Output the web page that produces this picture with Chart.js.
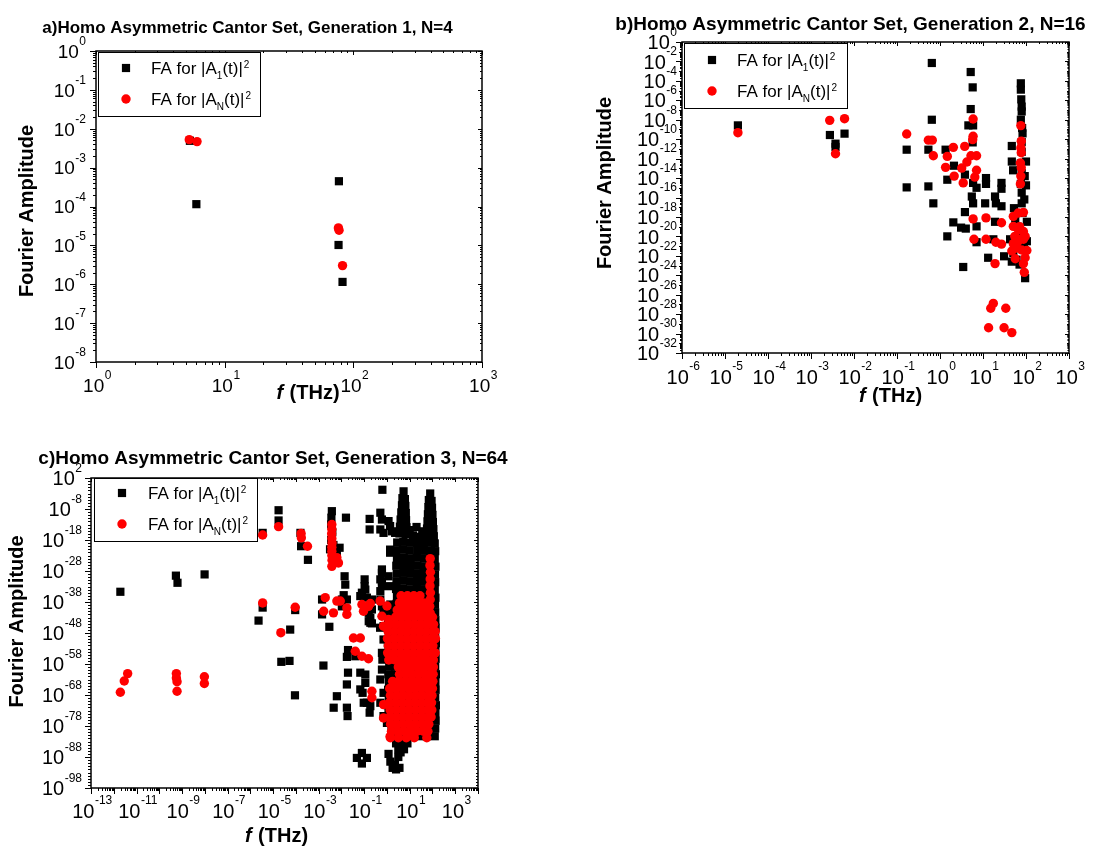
<!DOCTYPE html>
<html>
<head>
<meta charset="utf-8">
<title>Homo Asymmetric Cantor Set – Fourier Amplitude</title>
<script src="https://cdn.jsdelivr.net/npm/chart.js@4.4.1/dist/chart.umd.min.js"></script>
<style>
  html, body { margin: 0; padding: 0; background: #fff; }
  body { width: 1094px; height: 848px; position: relative; overflow: hidden; }
  canvas { position: absolute; }
</style>
</head>
<body>
<canvas id="gen1" width="547" height="424" style="left:0;top:0"></canvas>
<canvas id="gen2" width="547" height="424" style="left:547px;top:0"></canvas>
<canvas id="gen3" width="547" height="424" style="left:0;top:424px"></canvas>
<script>
// Every point is [log10 f (THz), log10 Fourier amplitude].

// ---- Generation 1, N = 4 ----
const gen1A1 = [[0.73,-2.31],[0.78,-3.94],[1.888,-3.35],[1.885,-4.99],[1.916,-5.94]];
const gen1AN = [[0.725,-2.28],[0.785,-2.33],[1.884,-4.55],[1.889,-4.61],[1.916,-5.52]];

// ---- Generation 2, N = 16 ----
const gen2A1 = [
  [-4.70,-8.58],[-2.56,-9.57],[-2.43,-10.46],[-2.43,-10.8],[-2.22,-9.43],
  [-0.775,-11.08],[-0.775,-14.96],
  [-0.19,-2.16],[-0.19,-8.0],[-0.27,-11.08],[-0.27,-14.86],[-0.155,-16.6],
  [0.13,-11.08],[0.325,-12.73],[0.17,-14.17],[0.31,-18.56],[0.17,-20.0],
  [0.58,-13.65],[0.58,-17.5],[0.49,-19.1],[0.6,-19.2],[0.54,-23.15],
  [0.714,-3.09],[0.76,-4.67],[0.714,-6.9],[0.66,-8.58],[0.77,-8.58],[0.76,-10.33],
  [0.77,-14.5],[0.85,-15.0],[0.74,-15.9],[0.77,-16.6],[0.85,-18.97],[0.85,-20.6],
  [1.07,-14.0],[1.07,-14.6],[1.05,-16.6],
  [1.28,-15.9],[1.30,-16.6],[1.28,-18.5],[1.24,-20.3],[1.12,-22.2],
  [1.43,-14.5],[1.43,-15.1],[1.43,-16.9],[1.49,-22.05],
  [1.88,-4.25],[1.88,-4.9],[1.89,-5.9],[1.9,-6.65],[1.9,-7.15],[1.88,-8.0],[1.91,-8.85],[1.92,-9.4],
  [1.67,-10.7],[1.67,-12.3],[1.70,-13.2],[2.0,-12.3],[1.97,-13.8],[2.0,-14.75],
  [1.9,-10.3],[1.9,-11.3],[1.88,-12.5],[1.9,-13.5],[1.88,-14.6],
  [1.9,-15.5],[1.9,-16.6],[1.96,-16.2],[1.72,-17.1],[1.92,-17.6],[2.02,-18.5],
  [1.67,-22.6],[1.78,-22.4],[1.98,-24.3],[1.705,-21.7],[2.02,-20.5],[1.63,-20.3],
  [1.8,-19.0],[1.9,-19.8],[1.95,-21.0],[1.85,-22.9],[1.75,-18.2]
];
const gen2AN = [
  [-4.70,-9.33],[-2.565,-8.06],[-2.22,-7.89],[-2.43,-11.5],
  [-0.775,-9.47],[-0.27,-10.1],[-0.18,-10.1],[-0.155,-11.7],
  [0.31,-10.84],[0.17,-11.77],[0.13,-12.9],[0.33,-13.8],
  [0.575,-10.74],[0.505,-12.97],[0.54,-14.5],[0.625,-12.35],
  [0.77,-7.92],[0.77,-9.7],[0.76,-10.05],[0.72,-11.7],[0.85,-11.7],[0.85,-13.2],[0.81,-13.9],
  [0.77,-18.2],[0.79,-20.3],
  [1.07,-18.1],[1.07,-20.3],[1.43,-18.6],[1.30,-20.6],[1.43,-20.8],[1.28,-22.8],
  [1.24,-26.9],[1.18,-27.4],[1.53,-27.4],[1.13,-29.4],[1.49,-29.4],[1.67,-29.9],
  [1.88,-8.6],[1.89,-10.2],[1.88,-10.9],[1.89,-11.4],[1.87,-12.45],[1.89,-12.95],[1.88,-13.8],[1.87,-14.6],
  [1.705,-17.94],[1.82,-17.6],[1.94,-17.53],[1.705,-18.97],[1.82,-19.3],[1.94,-19.5],[1.74,-20.0],
  [1.86,-20.3],[1.98,-20.0],[1.705,-20.75],[1.94,-20.3],[1.67,-21.5],[1.78,-21.2],[1.90,-21.4],
  [2.02,-21.45],[1.98,-22.2],[1.94,-22.8],[1.96,-23.7],[1.85,-19.0],[1.8,-20.6],[1.75,-22.3]
];

// ---- Generation 3, N = 64 ----
const gen3A1 = [
  [-11.71,-34.7],[-9.27,-29.5],[-9.2,-31.8],[-8.01,-29.1],
  [-5.46,-15.7],[-4.76,-8.4],[-4.76,-11.7],
  [-5.46,-39.8],[-5.64,-44.0],[-4.25,-46.9],[-4.64,-57.3],[-4.28,-57.0],[-4.04,-68.1],[-4.03,-40.6],
  [-3.80,-15.7],[-3.77,-20.0],[-3.47,-24.4],
  [-2.42,-8.7],[-2.44,-10.8],[-2.45,-13.0],[-2.40,-15.5],[-2.45,-18.0],[-2.35,-19.6],[-2.5,-21.0],[-2.2,-22.1],[-2.08,-20.5],
  [-1.8,-10.8],[-1.86,-29.7],[-1.83,-32.4],[-0.98,-30.7],[-0.98,-32.9],
  [-2.85,-37.2],[-2.85,-42.0],[-2.53,-46.0],[-2.79,-58.5],
  [-1.98,-37.2],[-1.98,-39.4],[-1.9,-35.8],[-1.76,-37.2],
  [-1.17,-36.1],[-0.88,-36.6],[-0.66,-37.2],[-0.66,-40.4],[-0.73,-43.1],[-0.66,-44.9],[-1.1,-35.0],[-0.95,-34.0],[-0.8,-41.5],[-0.8,-44.2],
  [-0.76,-11.2],[-0.76,-14.6],
  [-0.2,-1.8],[-0.29,-9.2],[-0.22,-11.4],[-0.29,-14.6],[-0.15,-15.7],
  [0.07,-11.9],[0.14,-13.5],[0.22,-15.2],[0.36,-15.7],[0.14,-21.1],[0.14,-22.1],
  [-0.22,-27.5],[-0.29,-30.7],[-0.22,-32.9],[0.07,-29.7],[0.14,-32.9],
  [-1.71,-53.5],[-1.76,-55.7],[-1.71,-60.8],[-1.76,-64.6],[-2.2,-68.4],[-2.34,-72.1],[-1.76,-72.1],[-1.73,-74.8],
  [-1.39,-55.5],[-1.17,-60.8],[-1.17,-66.2],[-1.02,-70.5],[-0.95,-61.4],[-0.95,-64.1],[-0.88,-70.5],[-0.73,-71.6],[-0.76,-73.7],[-1.07,-67.3],
  [-0.73,-44.7],[-0.3,-46.3],
  [-0.22,-28.6],[-0.22,-31.3],[-0.29,-34.5],[-0.29,-37.2],[-0.22,-39.4],[-0.15,-41.0],[-0.15,-45.8],[-0.15,-50.1],
  [-0.22,-54.4],[-0.2,-56.6],[-0.22,-59.8],[-0.29,-63.0],[-0.15,-67.3],[-0.29,-70.5],[-0.15,-74.8],[0.0,-77.0],
  [-1.32,-88.3],[-0.88,-88.3],[-1.1,-86.7],[-1.1,-90.1],
  [0.07,-87.0],[0.15,-89.5],[0.35,-90.5],[0.5,-88.0],[0.55,-91.5],[0.4,-92.0],[0.25,-91.5],[0.6,-86.5],
  // the two towers at 5 and 80 THz
  [0.73,-2.3],[0.68,-4.5],[0.79,-4.8],[0.66,-6.8],[0.81,-7.0],[0.63,-9.1],[0.83,-9.3],[0.6,-11.4],[0.84,-11.6],
  [0.57,-13.7],[0.86,-13.9],[0.55,-15.9],[0.82,-16.2],
  [1.9,-3.0],[1.84,-5.1],[1.96,-5.4],[1.82,-7.4],[1.98,-7.6],[1.8,-9.7],[2.0,-9.9],[1.78,-12.0],[2.02,-12.2],
  [1.76,-14.3],[2.04,-14.5],[1.8,-16.6],[2.06,-16.8],
  [1.0,-14.8],[1.3,-13.8],[1.55,-15.2],[1.15,-16.5],[1.45,-17.0],
  // dense band 1–140 THz
  [0.45,-18.8],[0.72,-18.6],[1.02,-18.9],[1.3,-18.7],[1.62,-19.0],[1.9,-18.8],[2.1,-19.1],
  [0.4,-21.3],[0.7,-21.1],[1.0,-21.4],[1.33,-21.2],[1.6,-21.5],[1.93,-21.3],[2.12,-21.6],
  [0.44,-23.8],[0.74,-23.6],[1.04,-23.9],[1.31,-23.7],[1.63,-24.0],[1.9,-23.8],[2.1,-24.1],
  [0.41,-26.3],[0.71,-26.1],[1.01,-26.4],[1.34,-26.2],[1.61,-26.5],[1.92,-26.3],[2.13,-26.6],
  [0.43,-28.8],[0.73,-28.6],[1.03,-28.9],[1.32,-28.7],[1.64,-29.0],[1.91,-28.8],[2.11,-29.1],
  [0.42,-31.3],[0.72,-31.1],[1.02,-31.4],[1.33,-31.2],[1.62,-31.5],[1.9,-31.3],[2.12,-31.6],
  [0.4,-33.8],[0.7,-33.6],[1.0,-33.9],[1.31,-33.7],[1.6,-34.0],[1.93,-33.8],[2.1,-34.1],
  [0.44,-36.3],[0.74,-36.1],[1.04,-36.4],[1.34,-36.2],[1.63,-36.5],[1.91,-36.3],[2.13,-36.6],
  [0.15,-38.8],[0.42,-38.6],[0.72,-38.9],[1.02,-38.7],[1.32,-39.0],[1.62,-38.8],[1.92,-39.1],[2.11,-38.9],
  [0.1,-41.3],[0.41,-41.1],[0.71,-41.4],[1.01,-41.2],[1.31,-41.5],[1.61,-41.3],[1.9,-41.6],[2.12,-41.4],
  [0.05,-43.8],[0.4,-43.6],[0.7,-43.9],[1.0,-43.7],[1.3,-44.0],[1.6,-43.8],[1.9,-44.1],[2.13,-43.9],
  [0.05,-46.3],[0.35,-46.3],[0.65,-46.3],[0.95,-46.3],[1.25,-46.3],[1.55,-46.3],[1.85,-46.3],[2.14,-46.3],
  [0.08,-48.8],[0.38,-48.8],[0.68,-48.8],[0.98,-48.8],[1.28,-48.8],[1.58,-48.8],[1.88,-48.8],[2.12,-48.8],
  [0.04,-51.3],[0.34,-51.3],[0.64,-51.3],[0.94,-51.3],[1.24,-51.3],[1.54,-51.3],[1.84,-51.3],[2.15,-51.3],
  [0.07,-53.8],[0.37,-53.8],[0.67,-53.8],[0.97,-53.8],[1.27,-53.8],[1.57,-53.8],[1.87,-53.8],[2.13,-53.8],
  [0.05,-56.3],[0.35,-56.3],[0.65,-56.3],[0.95,-56.3],[1.25,-56.3],[1.55,-56.3],[1.85,-56.3],[2.14,-56.3],
  [0.1,-58.8],[0.38,-58.8],[0.68,-58.8],[0.98,-58.8],[1.28,-58.8],[1.58,-58.8],[1.88,-58.8],[2.12,-58.8],
  [0.06,-61.3],[0.36,-61.3],[0.66,-61.3],[0.96,-61.3],[1.26,-61.3],[1.56,-61.3],[1.86,-61.3],[2.15,-61.3],
  [0.09,-63.8],[0.39,-63.8],[0.69,-63.8],[0.99,-63.8],[1.29,-63.8],[1.59,-63.8],[1.89,-63.8],[2.13,-63.8],
  [0.05,-66.3],[0.35,-66.3],[0.65,-66.3],[0.95,-66.3],[1.25,-66.3],[1.55,-66.3],[1.85,-66.3],[2.14,-66.3],
  [0.08,-68.8],[0.38,-68.8],[0.68,-68.8],[0.98,-68.8],[1.28,-68.8],[1.58,-68.8],[1.88,-68.8],[2.12,-68.8],
  [0.04,-71.3],[0.34,-71.3],[0.64,-71.3],[0.94,-71.3],[1.24,-71.3],[1.54,-71.3],[1.84,-71.3],[2.15,-71.3],
  [0.07,-73.8],[0.37,-73.8],[0.67,-73.8],[0.97,-73.8],[1.27,-73.8],[1.57,-73.8],[1.87,-73.8],[2.13,-73.8],
  [0.1,-76.3],[0.35,-76.3],[0.65,-76.3],[0.95,-76.3],[1.25,-76.3],[1.55,-76.3],[1.85,-76.3],[2.14,-76.3],
  [0.2,-78.8],[0.4,-78.8],[0.7,-78.8],[1.0,-78.8],[1.3,-78.8],[1.6,-78.8],[1.9,-78.8],[2.12,-78.8],
  [0.3,-81.3],[0.55,-81.3],[0.85,-81.3],[1.15,-81.3],[1.45,-81.3],[1.75,-81.3],[2.1,-81.3],
  [0.4,-83.6],[0.65,-83.6],[0.9,-83.6],[0.5,-85.5],[0.75,-85.5]
];
const gen3AN = [
  [-11.71,-67.1],[-11.54,-63.5],[-11.39,-61.1],
  [-9.25,-61.1],[-9.25,-62.5],[-9.22,-63.7],[-9.22,-66.8],
  [-8.02,-62.1],[-8.02,-64.3],
  [-5.46,-16.4],[-4.76,-13.7],[-5.46,-38.3],[-4.66,-47.9],[-4.03,-39.7],
  [-3.77,-15.9],[-3.76,-17.3],[-3.49,-20.0],
  [-2.42,-13.0],[-2.42,-14.5],[-2.43,-16.0],[-2.42,-17.5],[-2.41,-19.0],[-2.42,-20.3],
  [-2.42,-21.6],[-2.42,-23.0],[-2.41,-24.5],[-2.42,-26.5],[-2.2,-23.7],[-2.13,-25.4],
  [-2.71,-36.6],[-2.78,-41.0],[-2.35,-41.5],[-2.2,-37.7],[-2.05,-37.7],[-1.76,-39.9],[-1.76,-42.0],
  [-1.1,-38.8],[-1.03,-41.0],[-0.81,-39.4],[-0.73,-38.5],
  [-1.47,-49.6],[-1.17,-49.6],[-1.39,-53.9],[-1.1,-55.5],[-0.81,-56.3],
  [-0.66,-66.8],[-0.66,-68.9],[-0.15,-71.1],[-0.15,-75.4],[0.14,-81.3],
  [-0.3,-37.7],[0.0,-39.3],[-0.22,-42.6],[0.07,-43.6],[-0.15,-45.8],
  // column near 80 THz
  [1.9,-24.0],[1.89,-26.2],[1.91,-28.4],[1.9,-30.6],[1.89,-32.8],[1.91,-35.0],[1.9,-37.2],[1.88,-39.4],[1.9,-41.6],[1.92,-43.6],
  // dense band 1–140 THz
  [0.62,-36.0],[0.9,-36.0],[1.18,-36.0],[1.45,-36.0],
  [0.55,-38.3],[0.82,-38.3],[1.1,-38.3],[1.38,-38.3],[1.62,-38.3],
  [0.45,-40.6],[0.72,-40.6],[1.0,-40.6],[1.28,-40.6],[1.55,-40.6],[1.72,-40.6],
  [0.38,-42.9],[0.65,-42.9],[0.93,-42.9],[1.2,-42.9],[1.48,-42.9],[1.75,-42.9],[2.0,-42.9],
  [0.1,-45.2],[0.38,-45.2],[0.66,-45.2],[0.94,-45.2],[1.22,-45.2],[1.5,-45.2],[1.78,-45.2],[2.05,-45.2],
  [0.05,-47.5],[0.33,-47.5],[0.61,-47.5],[0.89,-47.5],[1.17,-47.5],[1.45,-47.5],[1.73,-47.5],[2.01,-47.5],[2.12,-47.5],
  [0.02,-49.8],[0.3,-49.8],[0.58,-49.8],[0.86,-49.8],[1.14,-49.8],[1.42,-49.8],[1.7,-49.8],[1.98,-49.8],[2.13,-49.8],
  [0.06,-52.1],[0.34,-52.1],[0.62,-52.1],[0.9,-52.1],[1.18,-52.1],[1.46,-52.1],[1.74,-52.1],[2.02,-52.1],
  [0.03,-54.4],[0.31,-54.4],[0.59,-54.4],[0.87,-54.4],[1.15,-54.4],[1.43,-54.4],[1.71,-54.4],[1.99,-54.4],[2.12,-54.4],
  [0.08,-56.7],[0.36,-56.7],[0.64,-56.7],[0.92,-56.7],[1.2,-56.7],[1.48,-56.7],[1.76,-56.7],[2.04,-56.7],
  [0.5,-59.0],[0.78,-59.0],[1.06,-59.0],[1.34,-59.0],[1.62,-59.0],[1.9,-59.0],[2.04,-59.0],
  [0.55,-61.3],[0.83,-61.3],[1.11,-61.3],[1.39,-61.3],[1.67,-61.3],[1.95,-61.3],[2.03,-61.3],
  [0.25,-63.6],[0.5,-63.6],[0.78,-63.6],[1.06,-63.6],[1.34,-63.6],[1.62,-63.6],[1.9,-63.6],[2.02,-63.6],
  [0.12,-65.9],[0.4,-65.9],[0.68,-65.9],[0.96,-65.9],[1.24,-65.9],[1.52,-65.9],[1.8,-65.9],[2.0,-65.9],
  [0.15,-68.2],[0.43,-68.2],[0.71,-68.2],[0.99,-68.2],[1.27,-68.2],[1.55,-68.2],[1.83,-68.2],[1.98,-68.2],
  [0.1,-70.5],[0.38,-70.5],[0.66,-70.5],[0.94,-70.5],[1.22,-70.5],[1.5,-70.5],[1.78,-70.5],[1.96,-70.5],
  [0.14,-72.8],[0.42,-72.8],[0.7,-72.8],[0.98,-72.8],[1.26,-72.8],[1.54,-72.8],[1.82,-72.8],[1.97,-72.8],
  [0.12,-75.1],[0.4,-75.1],[0.68,-75.1],[0.96,-75.1],[1.24,-75.1],[1.52,-75.1],[1.8,-75.1],[1.94,-75.1],
  [0.16,-77.4],[0.44,-77.4],[0.72,-77.4],[1.0,-77.4],[1.28,-77.4],[1.56,-77.4],[1.84,-77.4],
  [0.2,-79.7],[0.48,-79.7],[0.76,-79.7],[1.04,-79.7],[1.32,-79.7],[1.6,-79.7],[1.8,-79.7],
  [0.15,-81.8],[0.5,-81.8],[0.85,-81.8],[1.2,-81.8],[1.75,-81.8]
];

// ---- axis ranges (log10 decades) and labelled decades ----
const gen1XRange = [0, 3],   gen1YRange = [-8, 0];
const gen2XRange = [-6, 3],  gen2YRange = [-32, 0];
const gen3XRange = [-13, 4], gen3YRange = [-98, 2];
const gen1XLabels = [0, 1, 2, 3];
const gen1YLabels = [0, -1, -2, -3, -4, -5, -6, -7, -8];
const gen2XLabels = [-6, -5, -4, -3, -2, -1, 0, 1, 2, 3];
const gen2YLabels = [0, -2, -4, -6, -8, -10, -12, -14, -16, -18, -20, -22, -24, -26, -28, -30, -32];
const gen3XLabels = [-13, -11, -9, -7, -5, -3, -1, 1, 3];
const gen3YLabels = [2, -8, -18, -28, -38, -48, -58, -68, -78, -88, -98];

const titles = {
  gen1: 'a)Homo Asymmetric Cantor Set, Generation 1, N=4',
  gen2: 'b)Homo Asymmetric Cantor Set, Generation 2, N=16',
  gen3: 'c)Homo Asymmetric Cantor Set, Generation 3, N=64'
};
const seriesNames = ['1', 'N'];   // subscripts of |A(t)|^2 in the legend

const FONT = '"Liberation Sans", Arial, Helvetica, sans-serif';

// layout of each panel inside its 547x424 canvas
const layouts = {
  gen1: { pad: {left: 96, top: 51, right: 65, bottom: 62}, titleSize: 17, titleX: 247.5, titleBase: 33,
          labSize: 19, supSize: 12, yLabRight: 86, xLabMid: 385,
          yTitle: [27.5, 211], xTitle: [307.5, 399],
          legend: {box: [98, 52, 260, 116], mx: 126, rows: [68, 99], tx: 151},
          xTicks: {major: 'all', sub: true}, yTicks: {major: 'all', sub: true} },
  gen2: { pad: {left: 135, top: 42, right: 25, bottom: 71}, titleSize: 19, titleX: 303.5, titleBase: 30,
          labSize: 20, supSize: 12, yLabRight: 130, xLabMid: 376.5,
          yTitle: [58.5, 183], xTitle: [343, 402],
          legend: {box: [137, 43, 300, 108], mx: 165, rows: [60, 91], tx: 190},
          xTicks: {major: 'all', sub: true}, yTicks: {major: 'labels', dec: true, sub: true} },
  gen3: { pad: {left: 91, top: 54, right: 69, bottom: 60}, titleSize: 19, titleX: 273, titleBase: 40,
          labSize: 20, supSize: 12, yLabRight: 82, xLabMid: 386.5,
          yTitle: [17.5, 197.5], xTitle: [276, 418],
          legend: {box: [94, 54, 257, 117], mx: 122, rows: [69, 100], tx: 148},
          xTicks: {major: 'all', sub: true}, yTicks: {major: 'labels', dec: true, sub: false} }
};

const panels = {
  gen1: {a1: gen1A1, an: gen1AN, xr: gen1XRange, yr: gen1YRange, xl: gen1XLabels, yl: gen1YLabels},
  gen2: {a1: gen2A1, an: gen2AN, xr: gen2XRange, yr: gen2YRange, xl: gen2XLabels, yl: gen2YLabels},
  gen3: {a1: gen3A1, an: gen3AN, xr: gen3XRange, yr: gen3YRange, xl: gen3XLabels, yl: gen3YLabels}
};

const toPoints = arr => arr.map(([lf, la]) => ({x: Math.pow(10, lf), y: Math.pow(10, la)}));

const SQUARE = {pointStyle: 'rect', radius: 5.8, color: '#000000'};
const DOT = {pointStyle: 'circle', radius: 4.7, color: '#ff0000'};

// "10" with a raised exponent; y is the vertical centre of the "10"
function drawPower(ctx, exp, x, y, align, size, supSize) {
  const base = '10', sup = String(exp);
  ctx.font = size + 'px ' + FONT;
  const wb = ctx.measureText(base).width;
  ctx.font = supSize + 'px ' + FONT;
  const we = ctx.measureText(sup).width;
  const x0 = align === 'right' ? x - wb - we - 0.5 : x - (wb + we) / 2 + 1;
  const cap = size * 0.716;
  ctx.textAlign = 'left';
  ctx.textBaseline = 'alphabetic';
  ctx.font = size + 'px ' + FONT;
  ctx.fillText(base, x0, y + cap / 2);
  ctx.font = supSize + 'px ' + FONT;
  ctx.fillText(sup, x0 + wb + 0.5, y - cap / 2 + 1);
}

function legendEntry(ctx, x, yMid, sub) {
  const base = yMid + 6;
  ctx.textAlign = 'left';
  ctx.textBaseline = 'alphabetic';
  let cx = x;
  ctx.font = '17px ' + FONT;
  ctx.fillText('FA for |A', cx, base); cx += ctx.measureText('FA for |A').width;
  ctx.font = '10px ' + FONT;
  ctx.fillText(sub, cx, base + 5); cx += ctx.measureText(sub).width;
  ctx.font = '17px ' + FONT;
  ctx.fillText('(t)|', cx, base); cx += ctx.measureText('(t)|').width;
  ctx.font = '10px ' + FONT;
  ctx.fillText('2', cx + 1, base - 6);
}

function tickSet(range, spec, labels) {
  const major = [], minor = [], tiny = [];
  for (let d = range[0]; d <= range[1]; d++) {
    const isMajor = spec.major === 'all' || labels.includes(d);
    if (isMajor) major.push(d);
    else if (spec.dec) minor.push(d);
    if (spec.sub && d < range[1]) {
      for (let m = 2; m <= 9; m++) (spec.major === 'all' ? minor : tiny).push(d + Math.log10(m));
    }
  }
  return {major, minor, tiny};
}

const decor = {
  id: 'panelDecor',
  afterDraw(chart) {
    const id = chart.canvas.id;
    const L = layouts[id], D = panels[id];
    const ctx = chart.ctx, a = chart.chartArea;
    const xs = chart.scales.x, ys = chart.scales.y;
    const X = e => xs.getPixelForValue(Math.pow(10, e));
    const Y = e => ys.getPixelForValue(Math.pow(10, e));
    ctx.save();
    ctx.fillStyle = '#000';
    ctx.strokeStyle = '#000';

    // ticks
    ctx.lineWidth = 1;
    const xt = tickSet(D.xr, L.xTicks, D.xl), yt = tickSet(D.yr, L.yTicks, D.yl);
    ctx.beginPath();
    const xMark = (e, out, inn) => { const p = Math.round(X(e)) + 0.5;
      ctx.moveTo(p, a.bottom); ctx.lineTo(p, a.bottom + out);
      ctx.moveTo(p, a.top); ctx.lineTo(p, a.top + inn); };
    const yMark = (e, out, inn) => { const p = Math.round(Y(e)) + 0.5;
      ctx.moveTo(a.left, p); ctx.lineTo(a.left - out, p);
      ctx.moveTo(a.right, p); ctx.lineTo(a.right - inn, p); };
    xt.major.forEach(e => xMark(e, 6, 4)); xt.minor.forEach(e => xMark(e, 3, 2)); xt.tiny.forEach(e => xMark(e, 2, 1.5));
    yt.major.forEach(e => yMark(e, 6, 4)); yt.minor.forEach(e => yMark(e, 3, 2)); yt.tiny.forEach(e => yMark(e, 2, 1.5));
    ctx.stroke();

    // frame
    ctx.lineWidth = 1.5;
    ctx.strokeRect(a.left, a.top, a.right - a.left, a.bottom - a.top);

    // tick labels
    D.xl.forEach(e => drawPower(ctx, e, X(e), L.xLabMid, 'center', L.labSize, L.supSize));
    D.yl.forEach(e => drawPower(ctx, e, L.yLabRight, Y(e), 'right', L.labSize, L.supSize));

    // title
    ctx.font = 'bold ' + L.titleSize + 'px ' + FONT;
    ctx.textAlign = 'center';
    ctx.textBaseline = 'alphabetic';
    ctx.fillText(titles[id], L.titleX, L.titleBase);

    // y axis title
    ctx.save();
    ctx.translate(L.yTitle[0], L.yTitle[1]);
    ctx.rotate(-Math.PI / 2);
    ctx.font = 'bold 20px ' + FONT;
    ctx.textAlign = 'center';
    ctx.textBaseline = 'middle';
    ctx.fillText('Fourier Amplitude', 0, 0);
    ctx.restore();

    // x axis title: italic f, then (THz)
    ctx.textAlign = 'left';
    ctx.textBaseline = 'alphabetic';
    ctx.font = 'italic bold 20px ' + FONT;
    const wf = ctx.measureText('f').width;
    ctx.font = 'bold 20px ' + FONT;
    const wr = ctx.measureText(' (THz)').width;
    const x0 = L.xTitle[0] - (wf + wr) / 2;
    ctx.font = 'italic bold 20px ' + FONT;
    ctx.fillText('f', x0, L.xTitle[1]);
    ctx.font = 'bold 20px ' + FONT;
    ctx.fillText(' (THz)', x0 + wf + 1, L.xTitle[1]);

    // legend
    const b = L.legend.box;
    ctx.fillStyle = '#fff';
    ctx.fillRect(b[0], b[1], b[2] - b[0], b[3] - b[1]);
    ctx.lineWidth = 1;
    ctx.strokeStyle = '#000';
    ctx.strokeRect(b[0] + 0.5, b[1] + 0.5, b[2] - b[0], b[3] - b[1]);
    [SQUARE, DOT].forEach((st, i) => {
      ctx.fillStyle = st.color;
      ctx.strokeStyle = st.color;
      ctx.lineWidth = 0;
      Chart.helpers.drawPoint(ctx, {pointStyle: st.pointStyle, radius: st.radius, rotation: 0, borderWidth: 0}, L.legend.mx, L.legend.rows[i]);
      ctx.fillStyle = '#000';
      legendEntry(ctx, L.legend.tx, L.legend.rows[i], seriesNames[i]);
    });
    ctx.restore();
  }
};

function makePanel(id) {
  const D = panels[id], L = layouts[id];
  return new Chart(document.getElementById(id), {
    type: 'scatter',
    data: {
      datasets: [
        { label: 'FA for |A1(t)|^2', data: toPoints(D.a1), order: 1,
          pointStyle: SQUARE.pointStyle, pointRadius: SQUARE.radius, pointHoverRadius: SQUARE.radius,
          backgroundColor: SQUARE.color, borderColor: SQUARE.color, borderWidth: 0 },
        { label: 'FA for |AN(t)|^2', data: toPoints(D.an), order: 0,
          pointStyle: DOT.pointStyle, pointRadius: DOT.radius, pointHoverRadius: DOT.radius,
          backgroundColor: DOT.color, borderColor: DOT.color, borderWidth: 0 }
      ]
    },
    options: {
      responsive: false,
      animation: false,
      events: [],
      layout: { padding: L.pad },
      plugins: { legend: {display: false}, tooltip: {enabled: false}, title: {display: false} },
      scales: {
        x: { type: 'logarithmic', display: false, min: Math.pow(10, D.xr[0]), max: Math.pow(10, D.xr[1]) },
        y: { type: 'logarithmic', display: false, min: Math.pow(10, D.yr[0]), max: Math.pow(10, D.yr[1]) }
      }
    },
    plugins: [decor]
  });
}

['gen1', 'gen2', 'gen3'].forEach(makePanel);
</script>
</body>
</html>
